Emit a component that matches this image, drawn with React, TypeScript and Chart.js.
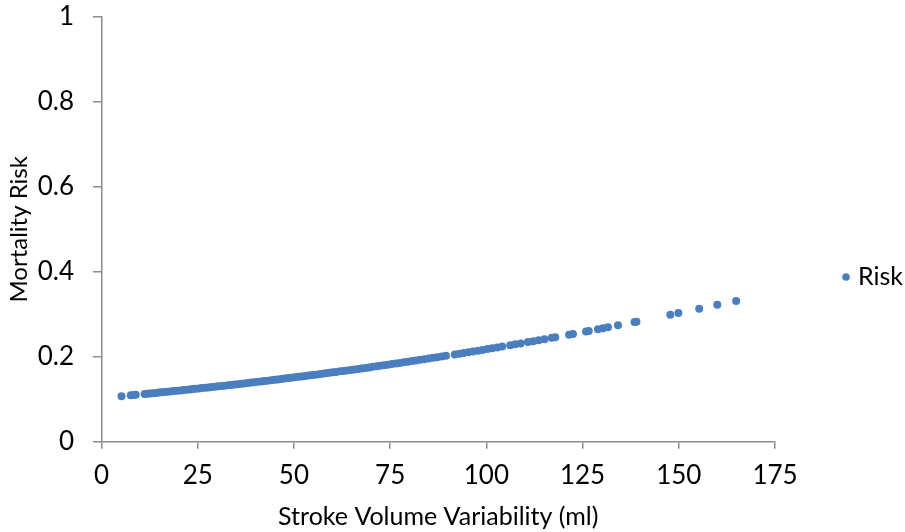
import React, { useEffect, useRef } from "react";
import { Chart, registerables } from "chart.js";

Chart.register(...registerables);

// Stroke volume variability (ml) for each patient
const svv: number[] = [
  5.2, 7.6, 8.3, 8.9, 11.2, 11.9, 12.6, 13.4, 14.1, 14.9, 15.6, 16.4, 17.3, 18.1, 18.8, 19.6,
  20.5, 21.3, 22.0, 22.9, 23.7, 24.4, 25.3, 26.1, 27.0, 27.8, 28.6, 29.5, 30.3, 31.2, 32.0, 32.9,
  33.7, 34.6, 35.4, 36.3, 37.1, 38.0, 38.9, 39.7, 40.6, 41.5, 42.3, 43.2, 44.1, 45.0, 45.8, 46.7,
  47.6, 48.5, 49.3, 50.2, 51.1, 52.0, 52.9, 53.8, 54.7, 55.6, 56.5, 57.4, 58.3, 59.2, 60.1, 61.0,
  62.0, 62.9, 63.8, 64.8, 65.7, 66.7, 67.6, 68.6, 69.5, 70.5, 71.5, 72.4, 73.4, 74.4, 75.4, 76.5,
  77.5, 78.5, 79.6, 80.7, 81.7, 82.8, 83.9, 85.0, 86.1, 87.2, 88.4, 89.5, 91.8, 93.0, 94.1, 95.3,
  96.5, 97.8, 99.0, 100.3, 101.5, 102.8, 104.1, 106.2, 107.5, 108.9, 110.8, 112.2, 113.6, 115.1,
  117.0, 117.9, 121.5, 122.5, 125.9, 126.6, 129.0, 130.3, 131.6, 134.2, 138.5, 139.0, 147.8,
  149.9, 155.3, 160.0, 164.9,
];

// Predicted mortality risk for each patient
const risk: number[] = [
  0.1072, 0.1093, 0.1099, 0.1104, 0.1124, 0.113, 0.1136, 0.1143, 0.1149, 0.1156, 0.1162, 0.1169,
  0.1177, 0.1185, 0.1191, 0.1199, 0.1208, 0.1215, 0.1222, 0.1231, 0.1238, 0.1245, 0.1254, 0.1262,
  0.1271, 0.1278, 0.1286, 0.1295, 0.1303, 0.1312, 0.132, 0.1329, 0.1338, 0.1347, 0.1355, 0.1364,
  0.1373, 0.1382, 0.1392, 0.14, 0.141, 0.1419, 0.1428, 0.1438, 0.1448, 0.1458, 0.1467, 0.1477,
  0.1487, 0.1497, 0.1506, 0.1516, 0.1527, 0.1537, 0.1548, 0.1558, 0.1569, 0.1579, 0.159, 0.1601,
  0.1611, 0.1622, 0.1633, 0.1644, 0.1656, 0.1667, 0.1678, 0.169, 0.1702, 0.1714, 0.1726, 0.1738,
  0.175, 0.1763, 0.1776, 0.1788, 0.1801, 0.1814, 0.1827, 0.1842, 0.1855, 0.1869, 0.1884, 0.1899,
  0.1913, 0.1928, 0.1943, 0.1958, 0.1974, 0.1989, 0.2007, 0.2022, 0.2055, 0.2073, 0.2089, 0.2107,
  0.2125, 0.2144, 0.2162, 0.2182, 0.22, 0.222, 0.224, 0.2273, 0.2293, 0.2315, 0.2345, 0.2368,
  0.239, 0.2415, 0.2446, 0.2461, 0.2521, 0.2538, 0.2596, 0.2608, 0.2649, 0.2672, 0.2695, 0.2741,
  0.2818, 0.2827, 0.2989, 0.3028, 0.3132, 0.3222, 0.3312,
];

const xTicks: number[] = [0, 25, 50, 75, 100, 125, 150, 175];
const yTicks: number[] = [0, 0.2, 0.4, 0.6, 0.8, 1];

const seriesName = "Risk";
const xTitle = "Stroke Volume Variability (ml)";
const yTitle = "Mortality Risk";

const DOT = "#4a7ebf";
const AXIS = "#8c8c8c";
const FONT = "Lato, 'Open Sans', sans-serif";

// Legend entry drawn to the right of the plot area
const sideLegend = {
  id: "sideLegend",
  afterDraw(chart: Chart) {
    const ctx = chart.ctx;
    ctx.save();
    ctx.fillStyle = DOT;
    ctx.beginPath();
    ctx.arc(846, 277, 3.8, 0, Math.PI * 2);
    ctx.fill();
    ctx.fillStyle = "#000";
    ctx.font = `25px ${FONT}`;
    ctx.textBaseline = "middle";
    ctx.textAlign = "left";
    ctx.fillText(seriesName, 858, 277);
    ctx.restore();
  },
};

export default function App() {
  const canvasRef = useRef<HTMLCanvasElement | null>(null);

  useEffect(() => {
    if (!canvasRef.current) return;
    const points = svv.map((x, i) => ({ x, y: risk[i] }));
    const chart = new Chart(canvasRef.current, {
      type: "scatter",
      data: {
        datasets: [
          {
            label: seriesName,
            data: points,
            backgroundColor: DOT,
            borderWidth: 0,
            pointRadius: 4,
            pointHoverRadius: 4,
          },
        ],
      },
      options: {
        animation: false,
        responsive: false,
        devicePixelRatio: 1,
        layout: { padding: { top: 17, right: 130, bottom: 0, left: 0 } },
        plugins: {
          legend: { display: false },
          tooltip: { enabled: false },
        },
        scales: {
          x: {
            type: "linear",
            min: 0,
            max: 175,
            afterBuildTicks: (scale: any) => {
              scale.ticks = xTicks.map((v) => ({ value: v }));
            },
            afterFit: (scale: any) => {
              scale.height = 90.3;
              scale.paddingLeft = 0;
              scale.paddingRight = 0;
            },
            grid: {
              display: true,
              drawOnChartArea: false,
              drawTicks: true,
              tickLength: 7,
              color: AXIS,
              lineWidth: 1.5,
            },
            border: { display: true, color: AXIS, width: 1.5 },
            ticks: {
              padding: 11,
              color: "#000",
              font: { family: FONT, size: 26 },
              maxRotation: 0,
            },
            title: {
              display: true,
              text: xTitle,
              color: "#000",
              font: { family: FONT, size: 25 },
              padding: { top: 0, bottom: 0 },
            },
          },
          y: {
            type: "linear",
            min: 0,
            max: 1,
            afterBuildTicks: (scale: any) => {
              scale.ticks = yTicks.map((v) => ({ value: v }));
            },
            afterFit: (scale: any) => {
              scale.width = 101.5;
              scale.paddingTop = 0;
              scale.paddingBottom = 0;
            },
            grid: {
              display: true,
              drawOnChartArea: false,
              drawTicks: true,
              tickLength: 8.5,
              color: AXIS,
              lineWidth: 1.5,
            },
            border: { display: true, color: AXIS, width: 1.5 },
            ticks: {
              padding: 19,
              color: "#000",
              font: { family: FONT, size: 26 },
              callback: (v: any) => String(Number(v)),
            },
            title: {
              display: true,
              text: yTitle,
              color: "#000",
              font: { family: FONT, size: 24 },
              padding: { top: 5, bottom: 0 },
            },
          },
        },
      },
      plugins: [sideLegend],
    });
    return () => chart.destroy();
  }, []);

  return (
    <div style={{ position: "fixed", left: 0, top: 0, width: 905, height: 532, background: "#fff" }}>
      <canvas ref={canvasRef} width={905} height={532} style={{ display: "block" }} />
    </div>
  );
}
